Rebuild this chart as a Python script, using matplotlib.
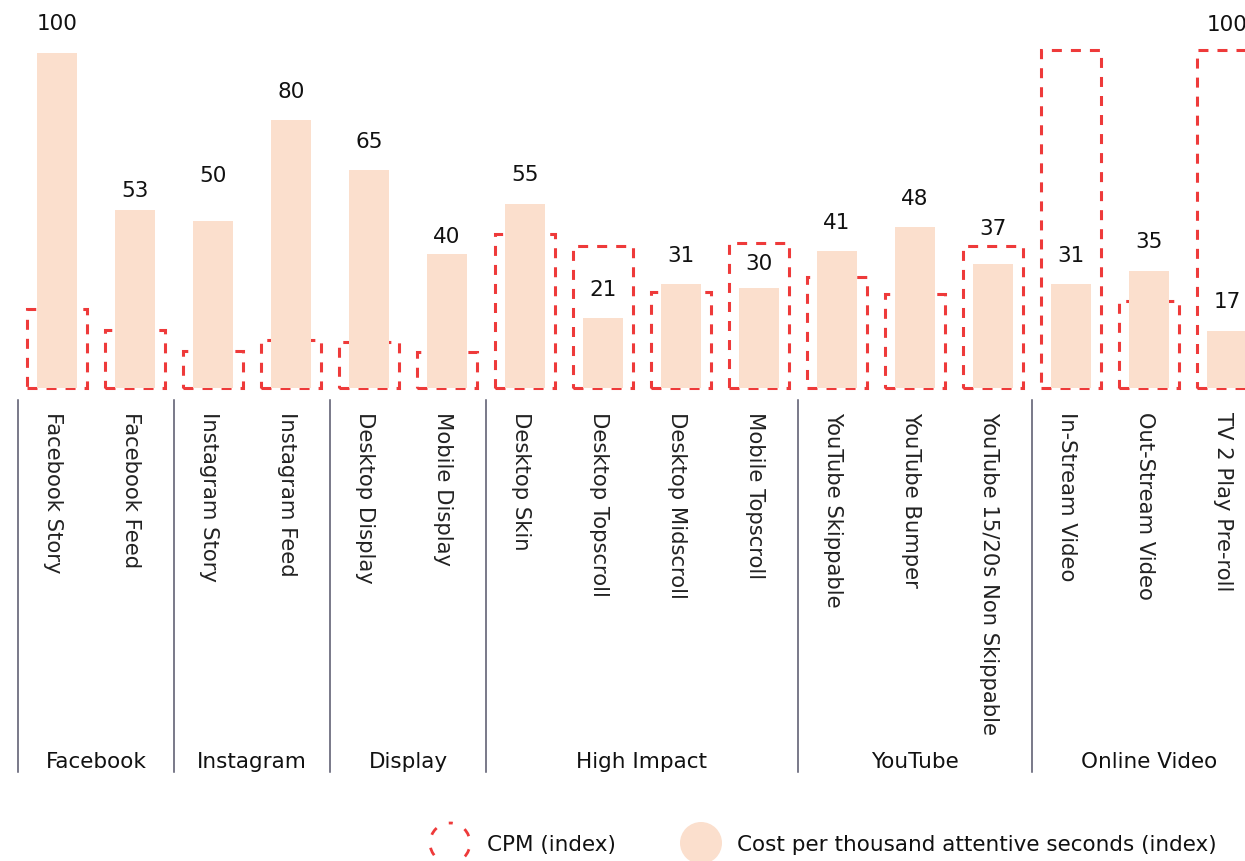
import matplotlib
matplotlib.use("Agg")
import matplotlib.pyplot as plt
import matplotlib.patches as mpatches

# ---- data ----
categories = ["Facebook Story", "Facebook Feed", "Instagram Story", "Instagram Feed",
              "Desktop Display", "Mobile Display", "Desktop Skin", "Desktop Topscroll",
              "Desktop Midscroll", "Mobile Topscroll", "YouTube Skippable", "YouTube Bumper",
              "YouTube 15/20s Non Skippable", "In-Stream Video", "Out-Stream Video",
              "TV 2 Play Pre-roll"]
attentive = [100, 53, 50, 80, 65, 40, 55, 21, 31, 30, 41, 48, 37, 31, 35, 17]
cpm = [23.5, 17.3, 11.0, 14.3, 13.6, 10.8, 46.0, 42.4, 28.7, 43.2, 33.2, 28.0, 42.4, 101.0, 26.0, 101.0]
groups = ["Facebook", "Instagram", "Display", "High Impact", "YouTube", "Online Video"]
group_sizes = [2, 2, 2, 4, 3, 3]
legend_labels = ["CPM (index)", "Cost per thousand attentive seconds (index)"]

# label gaps (pixels above bar top) to mimic the reference placement
label_gap_px = [29, 19, 44, 28, 28, 17, 29, 28, 28, 23, 28, 28, 35, 28, 29, 29]

# ---- style ----
W, H, DPI = 1245, 861, 100
PEACH = "#fbdfcd"
RED = "#ee3a3a"
SEP = "#55556a"
FONT = ["DejaVu Sans"]
plt.rcParams["font.family"] = FONT

fig = plt.figure(figsize=(W / DPI, H / DPI), dpi=DPI)

step = 78.0          # px per category
x0_px = 57.0         # px of first category center
base_px = 388.0      # baseline y px (from top)
unit_px = 3.35       # px per index unit
ax_bottom_px = 396.0

ax = fig.add_axes([0, (H - ax_bottom_px) / H, 1, ax_bottom_px / H])
ax.set_xlim(-x0_px / step, (W - x0_px) / step)
ax.set_ylim(-(ax_bottom_px - base_px) / unit_px, base_px / unit_px)
ax.axis("off")

xs = list(range(len(categories)))
ax.bar(xs, attentive, width=40 / step, color=PEACH, linewidth=0, zorder=3)

lw_pt = 2.2
for x, c in zip(xs, cpm):
    r = mpatches.Rectangle((x - 30 / step, 0), 60 / step, c, fill=False,
                           edgecolor=RED, linewidth=lw_pt,
                           linestyle=(0, (7.2 / lw_pt, 6.5 / lw_pt)), zorder=2,
                           joinstyle="miter")
    ax.add_patch(r)

for x, v, g in zip(xs, attentive, label_gap_px):
    ax.text(x, v + g / unit_px, f"{v}", ha="center", va="center", fontsize=15.5,
            color="#111111", zorder=4)
# reference label over the TV 2 Play CPM box
ax.text(xs[-1], cpm[-1] + 25 / unit_px, "100", ha="center", va="center",
        fontsize=15.5, color="#111111", zorder=4)

# ---- overlay in pixel coordinates ----
ov = fig.add_axes([0, 0, 1, 1])
ov.set_xlim(0, W)
ov.set_ylim(H, 0)
ov.axis("off")

# category labels
for x, name in zip(xs, categories):
    px = x0_px + x * step - 4
    ov.text(px, 412, name, rotation=-90, ha="center", va="top", fontsize=15.2,
            color="#222222")

# group separators and names
start = 0
for gname, n in zip(groups, group_sizes):
    left = x0_px + (start - 0.5) * step
    right = x0_px + (start + n - 0.5) * step
    ov.plot([left, left], [400, 772], color=SEP, linewidth=1.1)
    ov.text((left + right) / 2, 762, gname, ha="center", va="center",
            fontsize=15.5, color="#111111")
    start += n

# legend
ov.add_patch(mpatches.Ellipse((450, 843), 40, 40, fill=False, edgecolor=RED,
                              linewidth=2.0, linestyle=(2.0, (3.0, 4.8))))
ov.text(487, 845, legend_labels[0], ha="left", va="center", fontsize=15.5, color="#111111")
ov.add_patch(mpatches.Ellipse((701, 843), 42, 42, facecolor=PEACH, edgecolor="none"))
ov.text(737, 845, legend_labels[1], ha="left", va="center", fontsize=15.5, color="#111111")

fig.savefig("out.png", dpi=DPI)
